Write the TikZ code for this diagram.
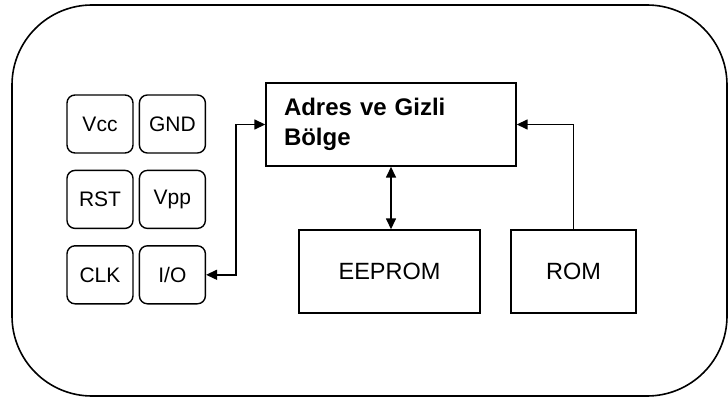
\documentclass[tikz,border=0pt]{standalone}
\usepackage{fontspec}
\setmainfont{Liberation Sans}
\usetikzlibrary{arrows.meta}
\usetikzlibrary{positioning}
\tikzset{>={Triangle[length=11pt,width=10pt]}}

\begin{document}
\begin{tikzpicture}[x=1pt, y=-1pt,
    pin/.style={draw, line width=1.4pt, rounded corners=8pt, minimum width=66pt, minimum height=58pt, inner sep=0pt, font=\fontsize{21}{25}\selectfont},
    block/.style={draw, line width=1.4pt, minimum height=83pt, inner sep=0pt, font=\fontsize{23.5}{28}\selectfont},
    link/.style={line width=1.5pt}]
    \useasboundingbox (0,0) rectangle (728,398);

    % Card outline
    \draw[line width=1.6pt, rounded corners=80pt] (12,5) rectangle (727,396);

    % Contacts
    \node[pin] (vcc) at (100,124) {Vcc};
    \node[pin, right=5pt of vcc] (gnd) {GND};
    \node[pin, below=16pt of vcc] (rst) {RST};
    \node[pin, right=5pt of rst] (vpp) {Vpp};
    \node[pin, below=16pt of rst] (clk) {CLK};
    \node[pin, right=5pt of clk] (io) {I/O};

    % Memory blocks
    \node[block, minimum width=250pt, text width=214pt, align=left, font=\fontsize{24}{30}\selectfont\bfseries] (adres) at (391,124.5) {Adres ve Gizli\\Bölge};
    \node[block, minimum width=181pt] (eeprom) at (389.5,271.5) {EEPROM};
    \node[block, minimum width=125pt] (rom) at (573.5,271.5) {ROM};

    % Links
    \draw[link, <->] (io.east) -- ++(30,0) |- (adres.west);
    \draw[link, <->] (adres.south) -- (adres.south |- eeprom.north);
    \draw[link, ->] (rom.north) |- (adres.east);
\end{tikzpicture}
\end{document}
